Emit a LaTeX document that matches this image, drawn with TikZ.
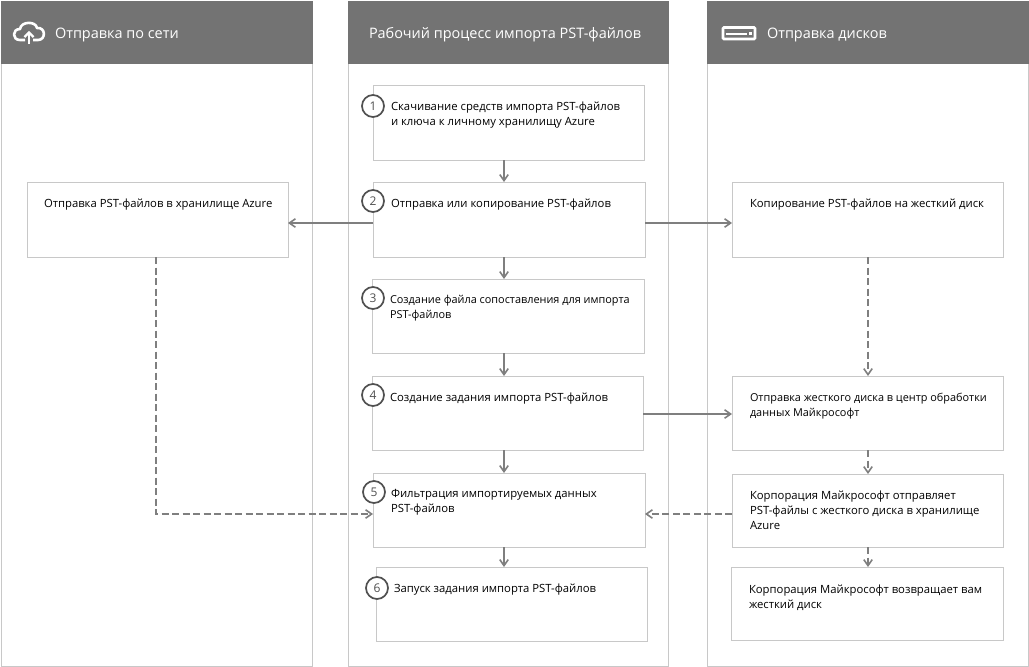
\documentclass[tikz,border=0pt]{standalone}
\usepackage{fontspec}
\setmainfont{Open Sans}
\usetikzlibrary{arrows.meta}
\definecolor{hdr}{HTML}{737373}
\definecolor{edge}{HTML}{C8C8C8}
\definecolor{conn}{HTML}{7F7F7F}
\definecolor{ring}{HTML}{505050}
\tikzset{
  x=1pt,y=-1pt,
  every node/.style={inner sep=0pt,outer sep=0pt},
  colbox/.style={draw=edge,line width=1pt,fill=white,anchor=north west},
  hdrbox/.style={fill=hdr,anchor=north west},
  stepbox/.style={draw=edge,line width=1pt,fill=white,anchor=north west},
  hdrtext/.style={text=white,font=\fontsize{14.45}{16}\selectfont,anchor=base west},
  steptext/.style={text=black,font=\fontsize{11.3}{15}\selectfont,anchor=north west,align=left},
  tighttext/.style={steptext,font=\fontsize{10.9}{15}\selectfont},
  num/.style={circle,draw=ring,line width=1.7pt,fill=white,minimum size=22pt,text=ring,font=\fontsize{12}{12}\selectfont},
  flow/.style={draw=conn,line width=1.6pt,-{Straight Barb[length=6pt,width=12pt,angle'=70]}},
  dflow/.style={flow,dash pattern=on 7pt off 3.5pt},
}
\newcommand{\bx}[6][stepbox]{\node[#1,minimum width=#5-#3,minimum height=#6-#4] (#2) at (#3,#4) {};}
\begin{document}
\begin{tikzpicture}
\useasboundingbox (0,0) rectangle (1029,667);
\fill[white] (0,0) rectangle (1029,667);
% columns
\node[colbox,minimum width=311pt,minimum height=665pt] (c1) at (1,1) {};
\node[colbox,minimum width=320pt,minimum height=665pt] (c2) at (348,1) {};
\node[colbox,minimum width=321pt,minimum height=665pt] (c3) at (707,1) {};
\node[hdrbox,minimum width=312pt,minimum height=63pt] (h1) at (1,1) {};
\node[hdrbox,minimum width=321pt,minimum height=63pt] (h2) at (348,1) {};
\node[hdrbox,minimum width=322pt,minimum height=63pt] (h3) at (707,1) {};
\node[hdrtext] (ht1) at (55,38) {Отправка по сети};
\node[hdrtext] (ht2) at (369,38) {Рабочий процесс импорта PST-файлов};
\node[hdrtext] (ht3) at (767,38) {Отправка дисков};
% cloud icon
\draw[white,line width=2.6pt,line join=round]
  (25,40) -- (20,40) .. controls (12,40) and (12,29) .. (20,29)
  .. controls (21,21) and (36,21) .. (37,28)
  .. controls (46,27) and (46,40) .. (38,40) -- (33,40);
\draw[white,line width=2.4pt] (29,44) -- (29,33);
\draw[white,line width=2.4pt] (24.5,37) -- (29,32.5) -- (33.5,37);
% disk icon
\draw[white,line width=2.6pt,rounded corners=1pt] (723,27.5) rectangle (755,39);
\fill[white] (726,32.5) rectangle (747,34.5);
\fill[white] (749,32) rectangle (751.5,34.5);
% boxes
\bx{b1}{373}{85}{644}{160}
\bx{b2}{373}{182}{645}{257}
\bx{b3}{372}{279}{644}{353}
\bx{b4}{372}{376}{643}{450}
\bx{b5}{373}{473}{645}{547}
\bx{b6}{376}{567}{647}{641}
\bx{l1}{27}{182}{288}{257}
\bx{r1}{732}{182}{1003}{257}
\bx{r2}{732}{376}{1003}{450}
\bx{r3}{732}{474}{1003}{547}
\bx{r4}{731}{567}{1003}{640}
% connectors
\coordinate (vx) at (504,0);
\draw[flow] (b1.south -| vx) -- (b2.north -| vx);
\draw[flow] (b2.south -| vx) -- (b3.north -| vx);
\draw[flow] (b3.south -| vx) -- (b4.north -| vx);
\draw[flow] (b4.south -| vx) -- (b5.north -| vx);
\draw[flow] (b5.south -| vx) -- (b6.north -| vx);
\coordinate (y2) at (0,223);
\coordinate (y4) at (0,414);
\coordinate (y5) at (0,514);
\coordinate (xl) at (156,0);
\coordinate (xr) at (868,0);
\draw[flow] (b2.west |- y2) -- (l1.east |- y2);
\draw[flow] (b2.east |- y2) -- (r1.west |- y2);
\draw[flow] (b4.east |- y4) -- (r2.west |- y4);
\draw[dflow] (l1.south -| xl) -- (xl |- y5) -- (b5.west |- y5);
\draw[dflow] (r3.west |- y5) -- (b5.east |- y5);
\draw[dflow] (r1.south -| xr) -- (r2.north -| xr);
\draw[dflow] (r2.south -| xr) -- (r3.north -| xr);
\draw[dflow] (r3.south -| xr) -- (r4.north -| xr);
% numbers
\node[num] (n1) at (373,106) {1};
\node[num] (n2) at (373,201) {2};
\node[num] (n3) at (373,298) {3};
\node[num] (n4) at (373,395) {4};
\node[num] (n5) at (374,492) {5};
\node[num] (n6) at (377,588) {6};
% texts
\node[steptext] (t1) at (391,101.7) {Скачивание средств импорта PST-файлов\\и ключа к личному хранилищу Azure};
\node[steptext] (t2) at (391,198.7) {Отправка или копирование PST-файлов};
\node[tighttext] (t3) at (390,295.7) {Создание файла сопоставления для импорта\\PST-файлов};
\node[steptext] (t4) at (390,392.7) {Создание задания импорта PST-файлов};
\node[steptext] (t5) at (391,489.7) {Фильтрация импортируемых данных\\PST-файлов};
\node[steptext] (t6) at (394,583.7) {Запуск задания импорта PST-файлов};
\node[steptext] (tl) at (44,198.7) {Отправка PST-файлов в хранилище Azure};
\node[steptext] (tr1) at (750,198.7) {Копирование PST-файлов на жесткий диск};
\node[tighttext] (tr2) at (750,392.7) {Отправка жесткого диска в центр обработки\\данных Майкрософт};
\node[steptext] (tr3) at (750,490.7) {Корпорация Майкрософт отправляет\\PST-файлы с жесткого диска в хранилище\\Azure};
\node[steptext] (tr4) at (749,584.7) {Корпорация Майкрософт возвращает вам\\жесткий диск};
\end{tikzpicture}
\end{document}
